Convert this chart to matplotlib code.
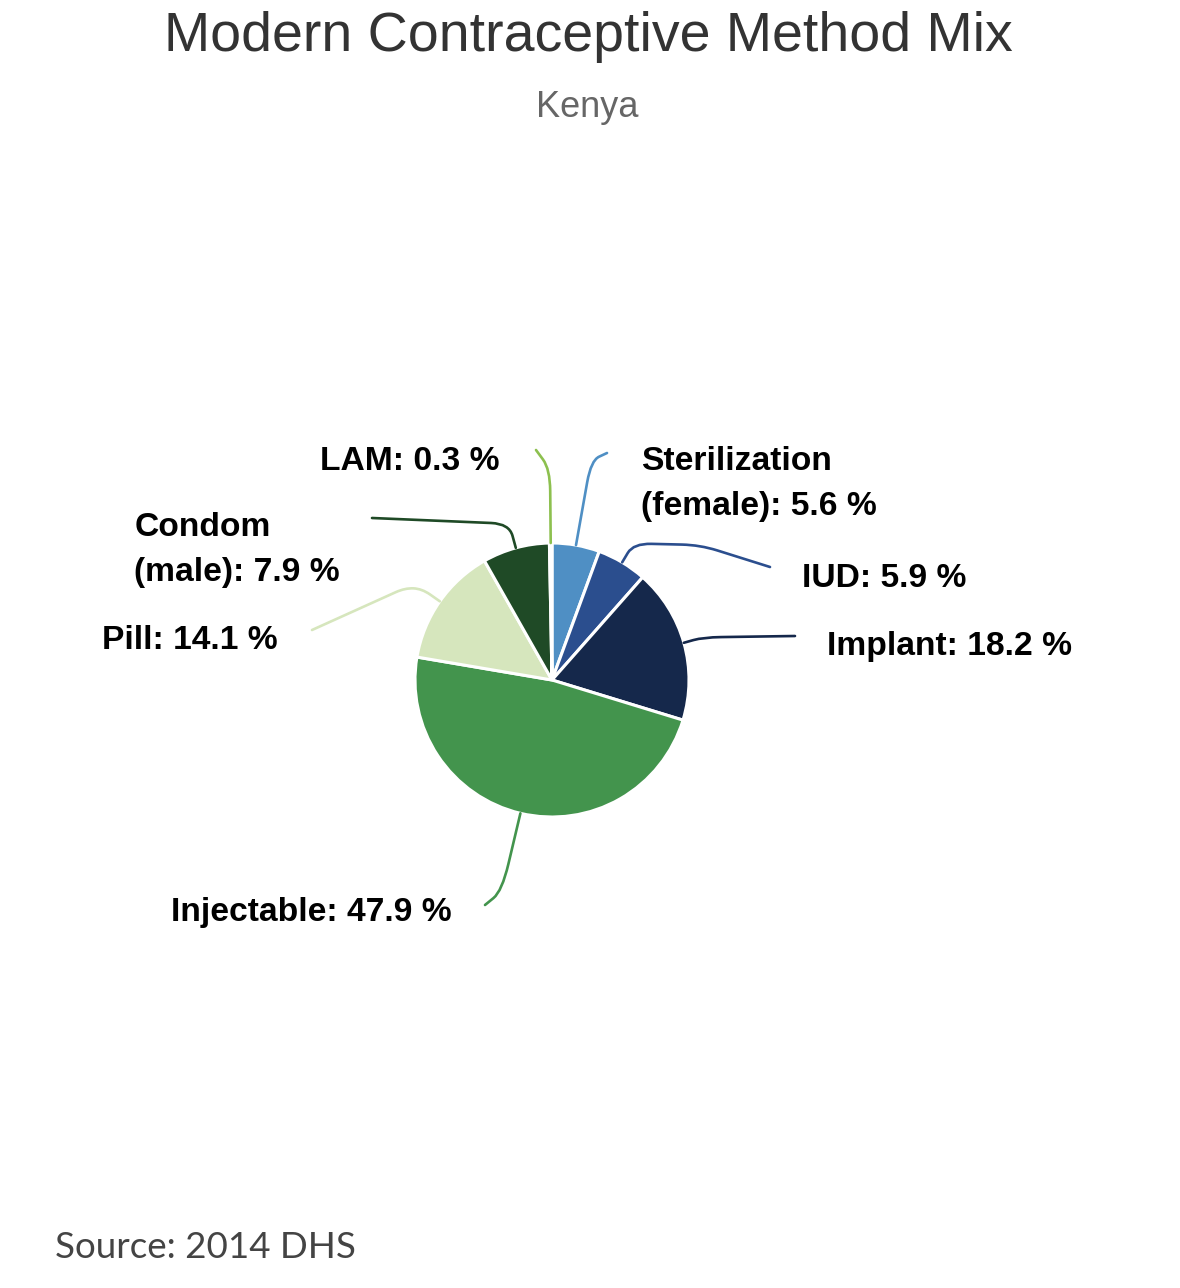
import numpy as np
import matplotlib
matplotlib.use("Agg")
import matplotlib.pyplot as plt
from matplotlib.path import Path
from matplotlib.patches import PathPatch

# ---- data ----
methods = ["Sterilization\n(female)", "IUD", "Implant", "Injectable", "Pill", "Condom\n(male)", "LAM"]
shares = [5.6, 5.9, 18.2, 47.9, 14.1, 7.9, 0.3]
colors = ["#4f8fc4", "#2b4e8e", "#15284b", "#43944d", "#d6e6bd", "#1f4a26", "#8dc04f"]

title = "Modern Contraceptive Method Mix"
subtitle = "Kenya"
source = "Source: 2014 DHS"

W, H = 1180, 1288
def Y(y):
    return H - y

fig = plt.figure(figsize=(W / 100, H / 100), dpi=100)
ax = fig.add_axes([0, 0, 1, 1])

cx, cy, R = 552, 680, 137
wedges, _ = ax.pie(shares, colors=colors, startangle=90, counterclock=False,
                   center=(cx, Y(cy)), radius=R,
                   wedgeprops=dict(edgecolor="white", linewidth=2.2))
ax.set_xlim(0, W)
ax.set_ylim(0, H)
ax.set_aspect("equal")
ax.set_axis_off()

# ---- label layout (image coords) ----
layout = {
    "Sterilization\n(female)": dict(ext=86, mids=[], end=(607, 453), text=(641, 484), ha="left", rad=22),
    "IUD": dict(ext=22, mids=[(700, 545)], end=(770, 567), text=(802, 578), ha="left", rad=18),
    "Implant": dict(ext=20, mids=[], end=(795, 636), text=(827, 646), ha="left", rad=18),
    "Injectable": dict(ext=80, mids=[], end=(485, 905), text=(452, 913), ha="right", rad=28),
    "Pill": dict(ext=22, mids=[(405, 588)], end=(312, 630), text=(278, 640), ha="right", rad=10),
    "Condom\n(male)": dict(ext=25, mids=[], end=(372, 518), text=(340, 550), ha="right", rad=18),
    "LAM": dict(ext=74, mids=[], end=(536, 450), text=(500, 461), ha="right", rad=22),
}

def rounded_path(pts, r):
    pts = [np.array(p, float) for p in pts]
    verts = [pts[0]]
    codes = [Path.MOVETO]
    for i in range(1, len(pts) - 1):
        p, a, b = pts[i], pts[i - 1], pts[i + 1]
        da = a - p; db = b - p
        la = np.hypot(*da); lb = np.hypot(*db)
        pa = p + da / la * min(r, la / 2)
        pb = p + db / lb * min(r, lb / 2)
        verts += [pa, p, pb]
        codes += [Path.LINETO, Path.CURVE3, Path.CURVE3]
    verts.append(pts[-1])
    codes.append(Path.LINETO)
    return Path(verts, codes)

cum = 0.0
total = sum(shares)
for name, val, col in zip(methods, shares, colors):
    mid = 90 - (cum + val / 2) / total * 360
    cum += val
    L = layout[name]
    th = np.deg2rad(mid)
    p0 = (cx + R * np.cos(th), Y(cy) + R * np.sin(th))
    p1 = (cx + (R + L["ext"]) * np.cos(th), Y(cy) + (R + L["ext"]) * np.sin(th))
    pts = [p0, p1] + [(x, Y(y)) for x, y in L["mids"]] + [(L["end"][0], Y(L["end"][1]))]
    ax.add_patch(PathPatch(rounded_path(pts, L["rad"]), fill=False, edgecolor=col,
                           linewidth=1.9, capstyle="round", joinstyle="round"))
    label = f"{name}: {val} %"
    tx, ty = L["text"]
    ax.text(tx, Y(ty), label, ha=L["ha"], va="center", multialignment="left",
            fontsize=24.2, fontweight="bold", family="Liberation Sans",
            color="#000000", linespacing=1.55)

ax.text(588, Y(37), title, ha="center", va="center", fontsize=40,
        family="Liberation Sans", color="#333333")
ax.text(587, Y(107), subtitle, ha="center", va="center", fontsize=26,
        family="Liberation Sans", color="#666666")
ax.text(55, Y(1248), source, ha="left", va="center", fontsize=26.5,
        family="Lato", color="#444444")

fig.savefig("out.png", dpi=100, facecolor="white")
